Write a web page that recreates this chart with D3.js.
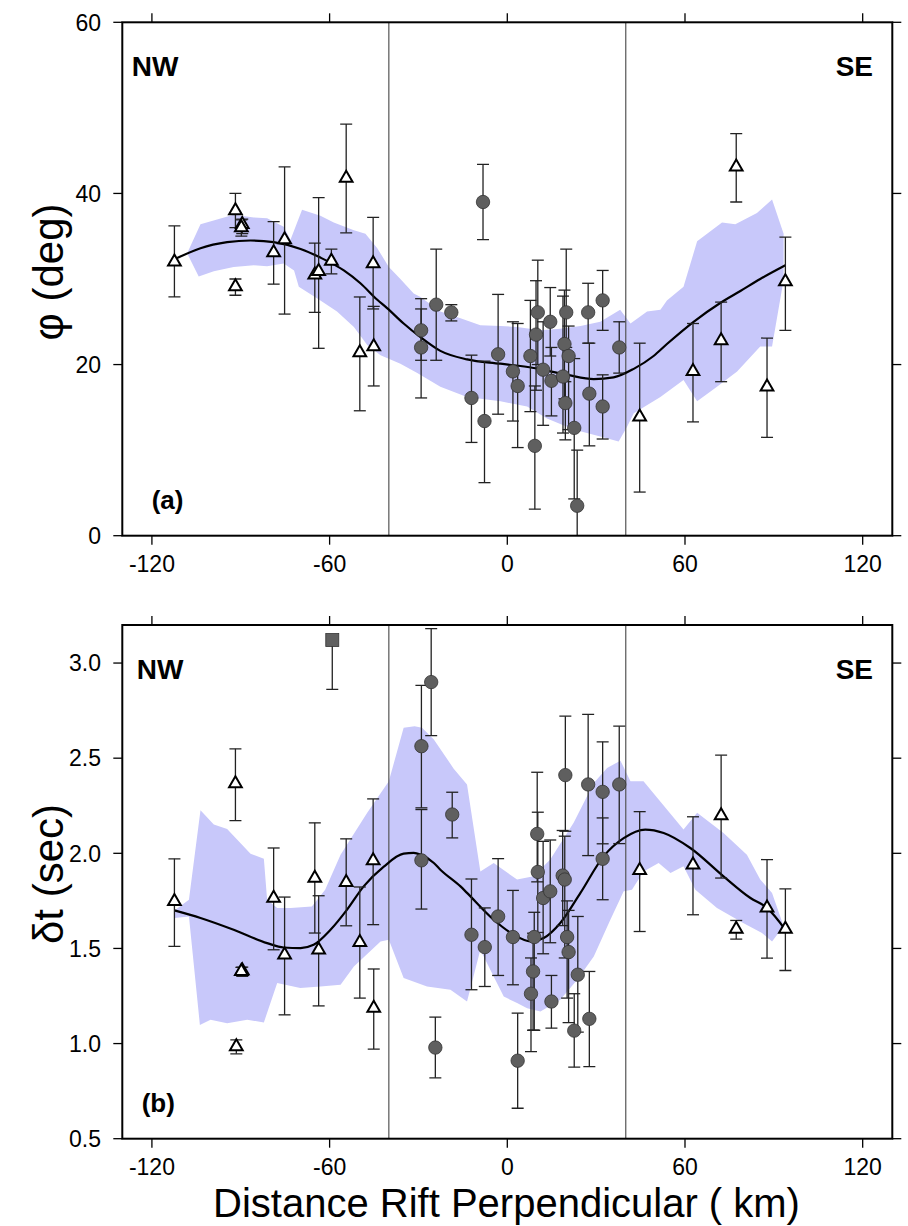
<!DOCTYPE html>
<html>
<head>
<meta charset="utf-8">
<script src="https://cdn.jsdelivr.net/npm/d3@7"></script>
<style>
  html, body { margin: 0; padding: 0; background: #fff; }
  svg { display: block; }
</style>
</head>
<body>
<div id="chart"></div>
<script>
// ---- data (x in km, value, error low, error high) ----
const xTicks = [-120, -60, 0, 60, 120];
const riftEdges = [-40, 40];

// panel (a): fast axis azimuth phi (deg)
const phiTicks = [0, 20, 40, 60];
const phiTriangles = [
  [-112.4, 32.0, 27.9, 36.2], [-91.8, 38.0, 36.0, 40.0], [-89.5, 36.4, 35.3, 37.0],
  [-89.8, 36.0, 35.0, 36.9], [-91.8, 29.1, 28.1, 30.0], [-78.9, 33.1, 29.4, 36.7],
  [-75.2, 34.6, 25.9, 43.1], [-65.0, 30.5, 26.1, 34.2], [-63.7, 30.9, 21.9, 39.5],
  [-59.4, 32.1, 30.6, 33.5], [-54.4, 41.8, 35.4, 48.1], [-45.3, 31.8, 26.5, 37.2],
  [-49.8, 21.4, 14.6, 27.9], [-45.1, 22.1, 17.5, 26.8], [44.7, 13.9, 5.1, 22.5],
  [62.7, 19.2, 13.3, 24.8], [72.2, 22.8, 18.0, 27.3], [77.3, 43.1, 39.0, 47.0],
  [87.7, 17.4, 11.5, 23.1], [93.9, 29.7, 24.0, 34.9]
];
const phiCircles = [
  [-29.1, 24.0, 20.5, 27.7], [-29.1, 22.0, 16.1, 26.5], [-24.0, 27.0, 20.5, 33.5],
  [-18.9, 26.1, 25.1, 27.0], [-12.1, 16.1, 10.9, 21.1], [-7.7, 13.4, 6.2, 20.4],
  [-8.2, 39.0, 34.6, 43.4], [-3.1, 21.2, 14.2, 28.2], [1.9, 19.2, 13.4, 25.0],
  [3.5, 17.5, 10.3, 24.8], [10.3, 26.1, 20.0, 32.2], [9.7, 23.5, 17.0, 29.8],
  [7.8, 21.0, 14.5, 27.5], [9.3, 10.5, 3.1, 17.5], [12.1, 19.4, 12.9, 25.0],
  [14.5, 25.0, 21.0, 29.0], [14.9, 18.1, 14.0, 22.0], [19.9, 26.1, 22.0, 33.5],
  [19.3, 22.4, 16.0, 28.7], [20.7, 21.0, 12.4, 24.5], [18.8, 18.6, 12.0, 28.0],
  [19.6, 15.5, 11.2, 18.0], [22.6, 12.6, 4.3, 20.7], [23.6, 3.5, -3.0, 10.0],
  [27.3, 26.1, 22.5, 29.5], [27.7, 16.6, 10.5, 22.5], [32.2, 27.5, 24.0, 31.0],
  [32.2, 15.1, 11.3, 18.8], [37.8, 22.0, 19.0, 25.0]
];
const phiSquares = [];
const phiCurve = [
  [-112.4, 32.3], [-103.6, 33.6], [-94.6, 34.3], [-86.7, 34.5], [-78.9, 34.3],
  [-69.8, 33.5], [-63.1, 32.5], [-55.2, 31.0], [-49.6, 29.5], [-44.0, 27.6],
  [-40.6, 26.6], [-35.0, 24.8], [-29.3, 23.2], [-22.6, 21.6], [-13.6, 20.6],
  [-2.3, 20.1], [8.9, 19.6], [20.2, 18.8], [29.2, 18.3], [35.9, 18.5],
  [42.7, 19.5], [49.4, 21.0], [53.9, 22.4], [62.9, 25.0], [71.9, 27.2],
  [78.7, 28.6], [85.4, 30.0], [93.9, 31.6]
];
const phiBandUpper = [
  [-108.1, 33.0], [-103.6, 36.4], [-92.4, 37.5], [-85.6, 37.2], [-81.1, 37.1],
  [-75.5, 36.1], [-73.2, 34.6], [-69.3, 38.1], [-63.1, 37.4], [-58.6, 36.6],
  [-51.8, 35.7], [-47.9, 35.3], [-43.9, 33.6], [-40.0, 31.4], [-36.1, 30.0],
  [-31.6, 28.3], [-29.3, 27.9], [-22.6, 26.2], [-15.8, 25.4], [-9.1, 24.6],
  [-2.3, 24.5], [3.3, 24.4], [11.2, 24.0], [17.9, 24.2], [24.7, 24.5],
  [31.4, 25.0], [38.1, 26.4], [41.6, 24.8], [47.2, 26.2], [51.7, 26.4],
  [53.9, 27.5], [59.5, 29.1], [64.1, 34.4], [72.5, 36.6], [77.0, 36.4],
  [84.3, 37.7], [89.4, 39.3], [93.3, 35.3], [93.3, 29.9]
];
const phiBandLower = [
  [-104.2, 30.3], [-99.1, 30.9], [-92.4, 31.4], [-85.6, 31.6], [-81.1, 31.5],
  [-75.5, 31.8], [-72.0, 31.0], [-70.4, 29.1], [-63.1, 27.5], [-57.5, 26.2],
  [-51.8, 24.4], [-47.3, 22.3], [-42.8, 21.1], [-36.1, 20.1], [-30.4, 19.0],
  [-22.6, 17.4], [-13.6, 16.2], [-2.3, 15.7], [6.7, 15.1], [13.4, 13.7],
  [22.4, 12.4], [31.4, 11.6], [37.6, 11.0], [40.4, 12.7], [42.7, 14.3],
  [51.7, 16.2], [59.5, 18.2], [64.1, 15.7], [70.8, 17.4], [77.6, 19.2],
  [85.4, 22.1], [89.4, 22.1]
];

// panel (b): delay time dt (sec)
const dtTicks = [0.5, 1.0, 1.5, 2.0, 2.5, 3.0];
const dtTriangles = [
  [-112.4, 1.747, 1.511, 1.971], [-91.8, 2.367, 2.172, 2.549], [-89.5, 1.384, 1.353, 1.402],
  [-89.8, 1.380, 1.360, 1.400], [-91.5, 0.984, 0.946, 1.019], [-78.9, 1.765, 1.493, 2.028],
  [-75.2, 1.467, 1.151, 1.770], [-65.0, 1.870, 1.581, 2.160], [-63.7, 1.493, 1.198, 1.777],
  [-54.4, 1.847, 1.619, 2.076], [-49.8, 1.532, 1.239, 1.823], [-45.3, 1.962, 1.625, 2.286],
  [-45.1, 1.186, 0.971, 1.392], [44.7, 1.911, 1.589, 2.219], [62.7, 1.940, 1.677, 2.192],
  [72.2, 2.198, 1.870, 2.516], [77.3, 1.602, 1.549, 1.647], [87.7, 1.713, 1.449, 1.967],
  [93.9, 1.602, 1.384, 1.813]
];
const dtCircles = [
  [-25.7, 2.900, 2.619, 3.181], [-29.0, 2.563, 2.239, 2.883], [-29.0, 1.963, 1.707, 2.230],
  [-18.6, 2.204, 2.081, 2.321], [-24.3, 0.979, 0.820, 1.139], [-12.1, 1.572, 1.283, 1.865],
  [-7.6, 1.507, 1.300, 1.713], [-3.1, 1.668, 1.358, 1.972], [1.9, 1.560, 1.309, 1.805],
  [3.5, 0.910, 0.660, 1.160], [10.1, 2.102, 1.850, 2.426], [10.3, 1.902, 1.584, 2.216],
  [9.1, 1.560, 1.070, 1.690], [8.7, 1.379, 1.070, 1.580], [8.0, 1.262, 0.958, 1.450],
  [12.1, 1.765, 1.472, 2.063], [14.5, 1.800, 1.530, 2.070], [14.9, 1.221, 1.081, 1.358],
  [19.6, 2.411, 2.116, 2.721], [18.7, 1.883, 1.620, 2.120], [19.4, 1.862, 1.450, 2.090],
  [20.2, 1.560, 1.239, 1.750], [20.7, 1.481, 1.110, 1.700], [23.8, 1.362, 1.060, 1.668],
  [22.6, 1.068, 0.876, 1.262], [27.7, 1.130, 0.879, 1.379], [27.3, 2.362, 1.988, 2.730],
  [32.2, 2.323, 2.050, 2.586], [32.2, 1.971, 1.756, 2.186], [37.8, 2.362, 2.051, 2.668]
];
const dtSquares = [[-59.1, 3.121, 2.862, 3.121]];
const dtCurve = [
  [-112.4, 1.700], [-103.6, 1.660], [-92.4, 1.598], [-81.1, 1.528], [-75.5, 1.505],
  [-69.8, 1.502], [-65.4, 1.519], [-59.7, 1.598], [-54.1, 1.704], [-48.5, 1.826],
  [-41.7, 1.930], [-35.0, 1.998], [-31.6, 2.002], [-29.3, 1.993], [-24.8, 1.949],
  [-22.6, 1.914], [-15.8, 1.826], [-13.6, 1.792], [-4.6, 1.651], [2.2, 1.572],
  [7.8, 1.537], [12.3, 1.555], [17.9, 1.634], [24.7, 1.792], [32.5, 1.984],
  [39.3, 2.080], [46.6, 2.125], [52.8, 2.107], [61.8, 2.028], [73.0, 1.879],
  [82.1, 1.765], [87.7, 1.713], [93.9, 1.598]
];
const dtBandUpper = [
  [-112.4, 1.70], [-107.5, 1.756], [-103.6, 2.226], [-99.1, 2.151], [-94.6, 2.128],
  [-86.7, 1.998], [-82.2, 1.971], [-81.1, 1.756], [-77.7, 1.713], [-73.2, 1.713],
  [-66.0, 1.720], [-61.5, 1.809], [-56.3, 1.993], [-47.3, 2.213], [-40.0, 2.379],
  [-35.0, 2.660], [-31.3, 2.668], [-28.8, 2.660], [-24.8, 2.598], [-18.1, 2.445],
  [-13.6, 2.362], [-9.1, 1.905], [-4.6, 1.949], [3.3, 1.862], [8.9, 1.880],
  [14.5, 1.967], [22.4, 2.160], [29.2, 2.370], [33.7, 2.449], [38.2, 2.487],
  [41.6, 2.379], [46.0, 2.379], [51.1, 2.283], [59.5, 2.125], [64.1, 2.213],
  [73.0, 2.107], [80.9, 1.993], [85.4, 1.862], [89.4, 1.792], [93.3, 1.616]
];
const dtBandLower = [
  [-112.4, 1.66], [-107.5, 1.668], [-103.8, 1.098], [-100.2, 1.125], [-94.6, 1.107],
  [-87.8, 1.125], [-82.2, 1.111], [-77.7, 1.318], [-69.9, 1.292], [-63.1, 1.300],
  [-56.3, 1.309], [-51.8, 1.405], [-42.8, 1.537], [-40.0, 1.546], [-35.0, 1.344],
  [-27.1, 1.300], [-19.2, 1.283], [-13.6, 1.221], [-9.1, 1.493], [-4.6, 1.353],
  [-1.2, 1.247], [3.3, 1.213], [6.7, 1.186], [11.2, 1.168], [17.9, 1.230],
  [23.6, 1.335], [29.2, 1.458], [34.8, 1.651], [39.3, 1.800], [42.1, 1.809],
  [46.0, 1.905], [51.1, 1.949], [55.1, 1.897], [59.5, 1.932], [63.5, 1.809],
  [70.8, 1.713], [79.8, 1.633], [86.0, 1.581], [89.4, 1.537], [93.3, 1.616]
];

// ---- layout ----
const width = 908, height = 1226;
const left = 122.3, right = 892.3;
const font = "'Liberation Sans', Arial, Helvetica, sans-serif";
const bandColor = "#c8c8fa";

const svg = d3.select("#chart").append("svg")
  .attr("width", width).attr("height", height)
  .attr("viewBox", [0, 0, width, height]);
svg.append("rect").attr("width", width).attr("height", height).attr("fill", "#fff");

const x = d3.scaleLinear().domain([-130, 130]).range([left, right]);

function drawPanel(p) {
  const y = d3.scaleLinear().domain(p.domain).range([p.bottom, p.top]);
  const g = svg.append("g");
  const clipId = "clip-" + p.id;
  svg.append("defs").append("clipPath").attr("id", clipId)
    .append("rect").attr("x", left).attr("y", p.top)
    .attr("width", right - left).attr("height", p.bottom - p.top);
  const plot = g.append("g").attr("clip-path", `url(#${clipId})`);

  // uncertainty band
  const poly = p.bandUpper.concat(p.bandLower.slice().reverse());
  plot.append("path")
    .attr("d", d3.line().x(d => x(d[0])).y(d => y(d[1])).curve(d3.curveLinearClosed)(poly))
    .attr("fill", bandColor).attr("stroke", "none");

  // rift edges
  plot.selectAll("line.edge").data(riftEdges).join("line")
    .attr("class", "edge")
    .attr("x1", d => x(d)).attr("x2", d => x(d))
    .attr("y1", p.top).attr("y2", p.bottom)
    .attr("stroke", "#555").attr("stroke-width", 1.2);

  // smoothed curve
  plot.append("path")
    .attr("d", d3.line().x(d => x(d[0])).y(d => y(d[1])).curve(d3.curveMonotoneX)(p.curve))
    .attr("fill", "none").attr("stroke", "#000").attr("stroke-width", 2.2);

  // error bars
  const all = p.triangles.concat(p.circles, p.squares);
  const eb = plot.append("g").attr("stroke", "#222").attr("stroke-width", 1.3);
  eb.selectAll("line.v").data(all).join("line")
    .attr("x1", d => x(d[0])).attr("x2", d => x(d[0]))
    .attr("y1", d => y(d[2])).attr("y2", d => y(d[3]));
  const caps = [];
  all.forEach(d => {
    if (d[2] !== d[1]) caps.push([d[0], d[2]]);
    if (d[3] !== d[1]) caps.push([d[0], d[3]]);
  });
  eb.selectAll("line.c").data(caps).join("line")
    .attr("x1", d => x(d[0]) - 6).attr("x2", d => x(d[0]) + 6)
    .attr("y1", d => y(d[1])).attr("y2", d => y(d[1]));

  // symbols
  plot.selectAll("circle.pt").data(p.circles).join("circle")
    .attr("cx", d => x(d[0])).attr("cy", d => y(d[1])).attr("r", 6.7)
    .attr("fill", "#5f5f5f").attr("stroke", "#333").attr("stroke-width", 0.8);
  plot.selectAll("rect.sq").data(p.squares).join("rect")
    .attr("x", d => x(d[0]) - 6.5).attr("y", d => y(d[1]) - 6.5)
    .attr("width", 13).attr("height", 13)
    .attr("fill", "#5f5f5f").attr("stroke", "#333").attr("stroke-width", 0.8);
  const tri = d3.symbol(d3.symbolTriangle, 70);
  plot.selectAll("path.tri").data(p.triangles).join("path")
    .attr("d", tri)
    .attr("transform", d => `translate(${x(d[0])},${y(d[1])})`)
    .attr("fill", "#fff").attr("stroke", "#000").attr("stroke-width", 2);

  // ticks (outward on all four sides)
  const tk = g.append("g").attr("stroke", "#000").attr("stroke-width", 1.3);
  xTicks.forEach(t => {
    tk.append("line").attr("x1", x(t)).attr("x2", x(t)).attr("y1", p.top).attr("y2", p.top - 9);
    tk.append("line").attr("x1", x(t)).attr("x2", x(t)).attr("y1", p.bottom).attr("y2", p.bottom + 9);
  });
  p.ticks.forEach(t => {
    tk.append("line").attr("x1", left).attr("x2", left - 9).attr("y1", y(t)).attr("y2", y(t));
    tk.append("line").attr("x1", right).attr("x2", right + 9).attr("y1", y(t)).attr("y2", y(t));
  });

  // frame
  g.append("rect").attr("x", left).attr("y", p.top)
    .attr("width", right - left).attr("height", p.bottom - p.top)
    .attr("fill", "none").attr("stroke", "#000").attr("stroke-width", 2);

  // tick labels
  g.selectAll("text.xt").data(xTicks).join("text")
    .attr("x", d => x(d)).attr("y", p.bottom + 36)
    .attr("text-anchor", "middle").attr("font-family", font).attr("font-size", 23)
    .text(d => d);
  g.selectAll("text.yt").data(p.ticks).join("text")
    .attr("x", 101).attr("y", d => y(d)).attr("dy", "0.36em")
    .attr("text-anchor", "end").attr("font-family", font).attr("font-size", 23)
    .text(p.fmt);

  // axis title
  g.append("text")
    .attr("transform", `translate(63,${p.titleY}) rotate(-90)`)
    .attr("text-anchor", "middle").attr("font-family", font).attr("font-size", 42)
    .text(p.title);

  // annotations
  g.append("text").attr("x", p.nwX).attr("y", p.top + 54)
    .attr("font-family", font).attr("font-weight", "bold").attr("font-size", 28).text("NW");
  g.append("text").attr("x", 873).attr("y", p.top + 54).attr("text-anchor", "end")
    .attr("font-family", font).attr("font-weight", "bold").attr("font-size", 28).text("SE");
  g.append("text").attr("x", p.tagX).attr("y", p.bottom - 27)
    .attr("font-family", font).attr("font-weight", "bold").attr("font-size", 26).text(p.tag);
}

drawPanel({
  id: "a", top: 22.3, bottom: 535.7, domain: [0, 60], ticks: phiTicks, fmt: d => d,
  triangles: phiTriangles, circles: phiCircles, squares: phiSquares,
  curve: phiCurve, bandUpper: phiBandUpper, bandLower: phiBandLower,
  title: "\u03c6 (deg)", titleY: 272, nwX: 131.7, tagX: 151.7, tag: "(a)"
});

drawPanel({
  id: "b", top: 625, bottom: 1138.7, domain: [0.5, 3.2], ticks: dtTicks, fmt: d3.format(".1f"),
  triangles: dtTriangles, circles: dtCircles, squares: dtSquares,
  curve: dtCurve, bandUpper: dtBandUpper, bandLower: dtBandLower,
  title: "\u03b4t (sec)", titleY: 874, nwX: 136.7, tagX: 141.7, tag: "(b)"
});

svg.append("text")
  .attr("x", 506.5).attr("y", 1216.5)
  .attr("text-anchor", "middle").attr("font-family", font).attr("font-size", 40)
  .text("Distance Rift Perpendicular ( km)");
</script>
</body>
</html>
